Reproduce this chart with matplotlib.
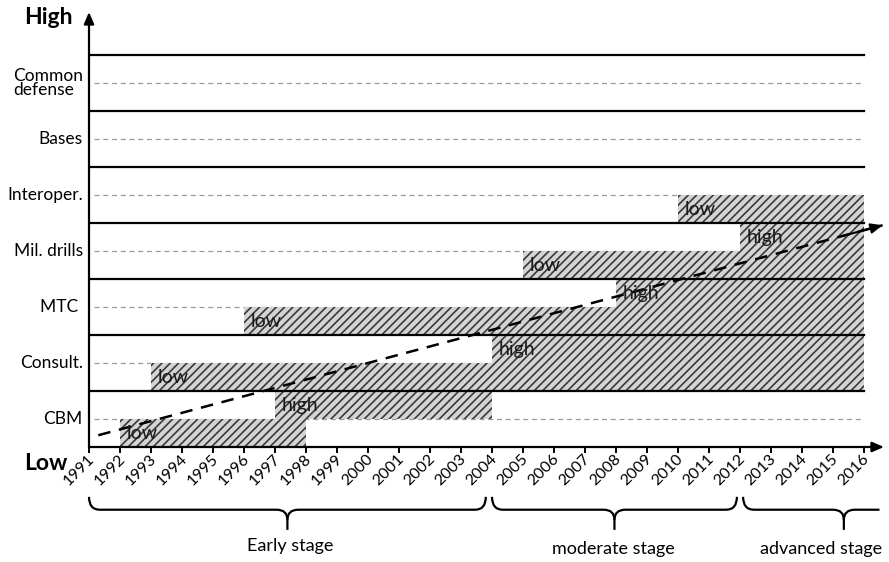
import matplotlib.pyplot as plt
from matplotlib.path import Path
from matplotlib.patches import PathPatch

plt.rcParams['font.family'] = ['Lato', 'DejaVu Sans']
plt.rcParams['hatch.linewidth'] = 1.2

years = list(range(1991, 2017))
rows = ["CBM", "Consult.", "MTC ", "Mil. drills", "Interoper.", "Bases", "Common\ndefense"]

# bars: (row index, level, start year, end year)
bar_rows = [0, 0, 1, 1, 2, 2, 3, 3, 4]
bar_levels = ["low", "high", "low", "high", "low", "high", "low", "high", "low"]
bar_starts = [1992, 1997, 1993, 2004, 1996, 2008, 2005, 2012, 2010]
bar_ends = [1998, 2004, 2016, 2016, 2016, 2016, 2016, 2016, 2016]

# trend arrow (year, level)
trend_x = [1991.3, 2016.6]
trend_y = [0.21, 3.96]

stages = ["Early stage", "moderate stage", "advanced stage"]
stage_from = [1991.0, 2004.0, 2012.1]
stage_to = [2003.8, 2011.9, 2018.6]
stage_cut = [None, None, 2016.5]


def brace(ax, x0, x1, cut=None, y_top=-0.89, y_h=-1.12, y_tip=-1.48, r=0.35):
    xm = (x0 + x1) / 2
    yc = (y_h + y_tip) / 2
    verts = [(x0, y_top), (x0, y_h), (x0 + r, y_h),
             (xm - r, y_h), (xm, y_h), (xm, yc), (xm, y_tip)]
    codes = [Path.MOVETO, Path.CURVE3, Path.CURVE3,
             Path.LINETO, Path.CURVE3, Path.CURVE3, Path.LINETO]
    ax.add_patch(PathPatch(Path(verts, codes), fill=False, lw=1.6,
                           ec="black", clip_on=False))
    if cut is not None:
        verts = [(xm, yc), (xm, y_h), (xm + r, y_h), (cut, y_h)]
        codes = [Path.MOVETO, Path.CURVE3, Path.CURVE3, Path.LINETO]
    else:
        verts = [(xm, yc), (xm, y_h), (xm + r, y_h),
                 (x1 - r, y_h), (x1, y_h), (x1, y_top)]
        codes = [Path.MOVETO, Path.CURVE3, Path.CURVE3,
                 Path.LINETO, Path.CURVE3, Path.CURVE3]
    ax.add_patch(PathPatch(Path(verts, codes), fill=False, lw=1.6,
                           ec="black", clip_on=False))


def main():
    fig = plt.figure(figsize=(8.89, 5.62), dpi=100)
    ax = fig.add_axes([89 / 889, 115 / 562, (884 - 89) / 889, 435 / 562])
    ax.set_xlim(1991, 1991 + (884 - 89) / 31)
    ax.set_ylim(0, 435 / 56)
    ax.axis("off")

    # bars
    for r, lev, s, e in zip(bar_rows, bar_levels, bar_starts, bar_ends):
        y0 = r + (0.5 if lev == "high" else 0.0)
        ax.bar(s, 0.5, width=e - s, bottom=y0, align="edge", color="#d4d4d4",
               hatch="////", edgecolor="#3a3a3a", linewidth=0, zorder=2)
        ax.text(s + 0.22, y0 + 0.24, lev, fontsize=14, color="#1a1a1a",
                ha="left", va="center", zorder=5)

    # row grid
    for i in range(len(rows)):
        ax.plot([1991.15, 2016], [i + 0.5, i + 0.5], ls=(0, (4, 3)),
                color="#9a9a9a", lw=0.9, zorder=1)
        ax.plot([1990.8, 2016], [i + 1, i + 1], color="black", lw=1.6, zorder=3)
        ax.text(1990.8, i + 0.5, rows[i], ha="right", va="center",
                multialignment="left", fontsize=12.5, linespacing=0.9)

    # axes with arrows
    ax.annotate("", xy=(1991 + (884 - 89) / 31, 0), xytext=(1991, 0),
                arrowprops=dict(arrowstyle="-|>,head_length=0.7,head_width=0.3",
                                lw=1.6, color="black", shrinkA=0, shrinkB=0))
    ax.annotate("", xy=(1991, 435 / 56), xytext=(1991, 0),
                arrowprops=dict(arrowstyle="-|>,head_length=0.7,head_width=0.3",
                                lw=1.6, color="black", shrinkA=0, shrinkB=0))
    for yr in years:
        ax.plot([yr, yr], [0, -0.09], color="black", lw=1.4, clip_on=False)
        ax.text(yr + 0.1, -0.17, str(yr), rotation=45, rotation_mode="anchor",
                ha="right", va="center", fontsize=11.5)

    # trend
    ax.plot(trend_x, trend_y, ls=(0, (5, 3.5)), color="black", lw=1.8, zorder=4)
    dx = trend_x[1] - trend_x[0]
    dy = trend_y[1] - trend_y[0]
    ax.annotate("", xy=(trend_x[1], trend_y[1]),
                xytext=(trend_x[1] - 0.05 * dx, trend_y[1] - 0.05 * dy),
                arrowprops=dict(arrowstyle="-|>,head_length=0.7,head_width=0.3",
                                lw=1.5, color="black", shrinkA=0, shrinkB=0),
                zorder=4)

    # stage braces
    for name, a, b, c in zip(stages, stage_from, stage_to, stage_cut):
        brace(ax, a, b, c)
    ax.text(1997.5, -1.77, stages[0], ha="center", va="center", fontsize=13)
    ax.text(2007.9, -1.82, stages[1], ha="center", va="center", fontsize=13)
    ax.text(2016.6, -1.82, stages[2], ha="right", va="center", fontsize=13)

    fig.text(48 / 889, 1 - 18 / 562, "High", ha="center", va="center",
             fontsize=16.5, fontweight="bold")
    fig.text(46 / 889, 1 - 463 / 562, "Low", ha="center", va="center",
             fontsize=16.5, fontweight="bold")

    fig.savefig("out.png", dpi=100)


if __name__ == "__main__":
    main()
